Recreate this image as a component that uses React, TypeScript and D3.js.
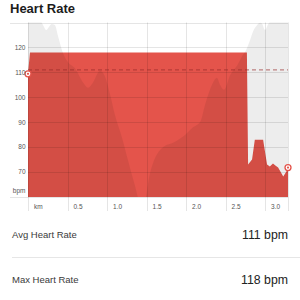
import React, { useEffect, useRef } from 'react';
import * as d3 from 'd3';

// heart rate trace (grey background area)
const traceKm = [0, 0.15, 0.19, 0.23, 0.3, 0.34, 0.38, 0.44, 0.51, 0.59, 0.7, 0.76, 0.82, 0.91, 0.97, 1.04, 1.1, 1.19, 1.27, 1.35, 1.42, 1.48, 1.54, 1.61, 1.7, 1.86, 1.99, 2.08, 2.18, 2.24, 2.28, 2.34, 2.39, 2.43, 2.48, 2.56, 2.65, 2.71, 2.76, 2.81, 2.85, 2.9, 2.94, 2.96, 3.0, 3.04, 3.09, 3.29];
const traceBpm = [132, 131, 129, 127, 129.4, 129, 124.6, 118, 114, 111.8, 105.8, 103.8, 105.8, 110.6, 108.6, 101, 93, 83.8, 74.2, 65, 58, 59, 69, 75.8, 79.8, 82.2, 85, 87.8, 90.2, 97, 101, 105.8, 107.8, 105, 103, 109, 113, 116.6, 119, 123, 126.6, 129, 130, 129.6, 127, 129.4, 131, 132];

// red heart rate area
const hrKm = [0, 0.025, 2.77, 2.785, 2.835, 2.87, 2.975, 3.025, 3.06, 3.1, 3.13, 3.165, 3.23, 3.27, 3.29];
const hrBpm = [109.4, 118, 118, 73, 75, 83, 83, 73, 72.2, 73.4, 72.6, 71.8, 68.2, 70.2, 71.8];

const xTicks = [0, 0.5, 1.0, 1.5, 2.0, 2.5, 3.0];
const xTickLabels = ['km', '0.5', '1.0', '1.5', '2.0', '2.5', '3.0'];
const yTicks = [120, 110, 100, 90, 80, 70];

const avgHr = 111;
const maxHr = 118;

const W = 300;
const H = 300;
const FONT = '"Liberation Sans", Arial, sans-serif';

const HeartRateChart: React.FC = () => {
	const svgRef = useRef<SVGSVGElement>(null);

	useEffect(() => {
		const svg = d3.select(svgRef.current);
		svg.selectAll('*').remove();

		const x = d3.scaleLinear().domain([0, 3.29]).range([28, 288]);
		const y = d3.scaleLinear().domain([60, 130]).range([197, 22.5]);
		const [x0, x1] = x.range();
		const [yB, yT] = y.range();

		// title
		svg
			.append('text')
			.attr('x', 10)
			.attr('y', 13)
			.style('font-family', FONT)
			.style('font-weight', 'bold')
			.style('font-size', '13px')
			.style('fill', '#1c1c1c')
			.text('Heart Rate');

		svg
			.append('defs')
			.append('clipPath')
			.attr('id', 'plot-clip')
			.append('rect')
			.attr('x', x0)
			.attr('y', yT)
			.attr('width', x1 - x0)
			.attr('height', yB - yT);

		const plot = svg.append('g').attr('clip-path', 'url(#plot-clip)');

		const hrData = hrKm.map((k, i) => ({ k, v: hrBpm[i] }));
		const traceData = traceKm.map((k, i) => ({ k, v: traceBpm[i] }));

		// red area
		const hrArea = d3
			.area<{ k: number; v: number }>()
			.x((d) => x(d.k))
			.y0(yB)
			.y1((d) => y(d.v));
		plot.append('path').attr('d', hrArea(hrData) as string).attr('fill', '#e4544b');

		// grey trace laid over
		const traceArea = d3
			.area<{ k: number; v: number }>()
			.x((d) => x(d.k))
			.y0(yB + 5)
			.y1((d) => y(d.v))
			.curve(d3.curveMonotoneX);
		plot
			.append('path')
			.attr('d', traceArea(traceData) as string)
			.attr('fill', 'rgba(0,0,0,0.07)');

		// grid
		const grid = svg.append('g').attr('stroke', 'rgba(0,0,0,0.1)').attr('stroke-width', 1);
		yTicks.forEach((t) => {
			grid
				.append('line')
				.attr('x1', x0)
				.attr('x2', x1)
				.attr('y1', Math.round(y(t)) + 0.5)
				.attr('y2', Math.round(y(t)) + 0.5);
		});
		[yT, yB].forEach((py) => {
			grid
				.append('line')
				.attr('x1', 10)
				.attr('x2', x1)
				.attr('y1', Math.round(py) + 0.5)
				.attr('y2', Math.round(py) + 0.5);
		});
		[...xTicks, 3.29].forEach((t) => {
			grid
				.append('line')
				.attr('x1', Math.round(x(t)) + 0.5)
				.attr('x2', Math.round(x(t)) + 0.5)
				.attr('y1', yT)
				.attr('y2', yB + 14);
		});

		// average line
		svg
			.append('line')
			.attr('x1', x0)
			.attr('x2', x1)
			.attr('y1', y(avgHr))
			.attr('y2', y(avgHr))
			.attr('stroke', 'rgba(150,40,40,0.55)')
			.attr('stroke-width', 1.2)
			.attr('stroke-dasharray', '4,3');

		// end markers
		[hrData[0], hrData[hrData.length - 1]].forEach((d) => {
			svg
				.append('circle')
				.attr('cx', x(d.k))
				.attr('cy', y(d.v))
				.attr('r', 3)
				.attr('fill', '#fff')
				.attr('stroke', '#e4544b')
				.attr('stroke-width', 1.3);
			svg
				.append('circle')
				.attr('cx', x(d.k))
				.attr('cy', y(d.v))
				.attr('r', 1.1)
				.attr('fill', '#e4544b');
		});

		// y labels
		yTicks.forEach((t) => {
			svg
				.append('text')
				.attr('x', 25.5)
				.attr('y', y(t) + 2.3)
				.attr('text-anchor', 'end')
				.style('font-family', FONT)
				.style('font-size', '6.5px')
				.style('fill', '#555')
				.text(t);
		});
		svg
			.append('text')
			.attr('x', 25.5)
			.attr('y', y(60) - 4)
			.attr('text-anchor', 'end')
			.style('font-family', FONT)
			.style('font-size', '6.5px')
			.style('fill', '#555')
			.text('bpm');

		// x labels
		xTicks.forEach((t, i) => {
			svg
				.append('text')
				.attr('x', x(t) + 6)
				.attr('y', yB + 12)
				.style('font-family', FONT)
				.style('font-size', '6.5px')
				.style('fill', '#555')
				.text(xTickLabels[i]);
		});

		// summary rows
		const rows = [
			{ label: 'Avg Heart Rate', value: avgHr, cy: 234.5 },
			{ label: 'Max Heart Rate', value: maxHr, cy: 280 },
		];
		rows.forEach((r) => {
			svg
				.append('text')
				.attr('x', 12)
				.attr('y', r.cy + 3.4)
				.style('font-family', FONT)
				.style('font-size', '9.5px')
				.style('fill', '#3a3a3a')
				.text(r.label);
			svg
				.append('text')
				.attr('x', 288)
				.attr('y', r.cy + 4.4)
				.attr('text-anchor', 'end')
				.style('font-family', FONT)
				.style('font-size', '12.3px')
				.style('fill', '#222')
				.text(`${r.value} bpm`);
		});
		svg
			.append('line')
			.attr('x1', 12)
			.attr('x2', 300)
			.attr('y1', 257.5)
			.attr('y2', 257.5)
			.attr('stroke', '#e6e6e6')
			.attr('stroke-width', 1);
	}, []);

	return (
		<svg
			ref={svgRef}
			width={W}
			height={H}
			style={{ position: 'absolute', left: 0, top: 0, background: '#fff' }}
		/>
	);
};

export default function App() {
	return <HeartRateChart />;
}
